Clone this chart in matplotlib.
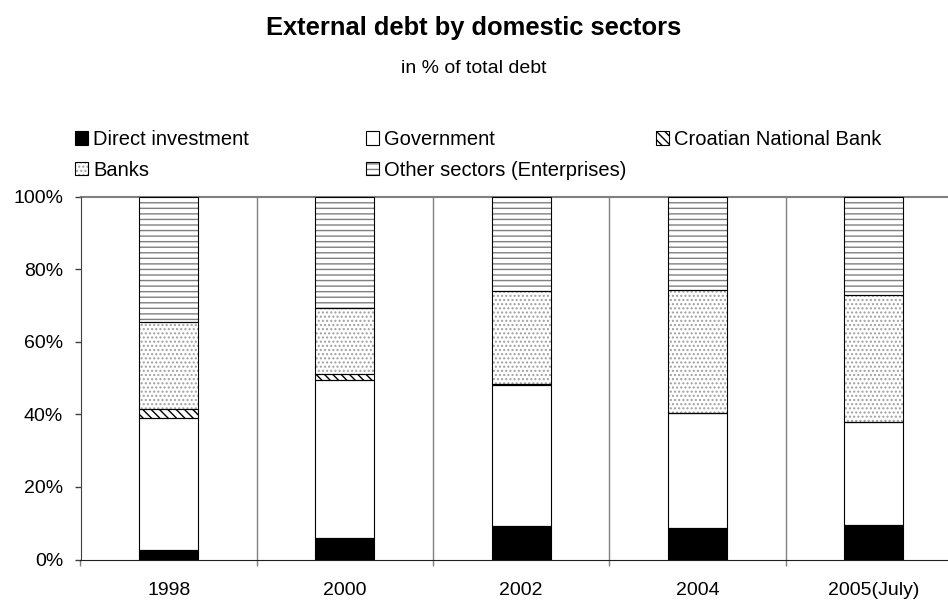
import numpy as np
import matplotlib
matplotlib.use('Agg')
import matplotlib.pyplot as plt
from matplotlib.patches import Patch

plt.rcParams['font.family'] = ['Liberation Sans', 'DejaVu Sans']
plt.rcParams['hatch.linewidth'] = 1.0

# data (shares in % of total debt)
years = ['1998', '2000', '2002', '2004', '2005(July)']
direct_inv = [2.6, 5.8, 9.3, 8.8, 9.5]
government = [36.3, 43.6, 38.8, 31.7, 28.4]
cnb = [2.6, 1.7, 0.2, 0.0, 0.0]
banks = [24.0, 18.3, 25.6, 33.8, 34.9]
other = [34.5, 30.6, 26.1, 25.7, 27.2]
y_ticks = [0, 20, 40, 60, 80, 100]
y_labels = ['0%', '20%', '40%', '60%', '80%', '100%']

# series: label, values, facecolor, hatch, hatch colour
series = [
    ('Direct investment', direct_inv, 'black', None, 'black'),
    ('Government', government, 'white', None, 'black'),
    ('Croatian National Bank', cnb, 'white', '\\\\\\\\', 'black'),
    ('Banks', banks, 'white', '....', '#a0a0a0'),
    ('Other sectors (Enterprises)', other, 'white', '---', '#808080'),
]

W, H = 948, 601
fig = plt.figure(figsize=(W / 100, H / 100), dpi=100)
ax = fig.add_axes([80.5 / W, 1 - 559.5 / H, (962 - 80.5) / W, (559.5 - 196.7) / H])

x = np.arange(len(years))
bw = 0.335
bottom = np.zeros(len(years))
handles = {}
for label, vals, fc, hatch, hc in series:
    vals = np.array(vals)
    # fill + hatch layer, then black outline on top
    ax.bar(x, vals, bw, bottom=bottom, color=fc, edgecolor=hc, hatch=hatch, linewidth=0, zorder=2)
    ax.bar(x, vals, bw, bottom=bottom, fill=False, edgecolor='black', linewidth=0.8, zorder=3)
    handles[label] = (Patch(facecolor=fc, edgecolor=hc, hatch=hatch, linewidth=0),
                      Patch(fill=False, edgecolor='black', linewidth=0.8))
    bottom += vals

ax.set_xlim(-0.5, len(years) - 0.5)
ax.set_ylim(0, 100)
ax.set_xticks(x)
ax.set_xticklabels(years, fontsize=14)
ax.set_xticks(np.arange(len(years) + 1) - 0.5, minor=True)
ax.tick_params(axis='x', which='major', length=0, pad=16.5)
ax.tick_params(axis='x', which='minor', length=4.5, width=1, color='#808080', direction='out')
ax.grid(axis='x', which='minor', color='#808080', linewidth=1, zorder=1)
ax.set_yticks(y_ticks)
ax.set_yticklabels(y_labels, fontsize=14)
ax.tick_params(axis='y', length=4.5, width=1, color='#404040', pad=8)
ax.axhline(100, color='#808080', linewidth=1.5, zorder=1, clip_on=False)

ax.spines['top'].set_visible(False)
ax.spines['right'].set_visible(False)
ax.spines['left'].set_color('#404040')
ax.spines['bottom'].set_color('#202020')
ax.set_axisbelow(True)

fig.text(0.5, 1 - 35 / H, 'External debt by domestic sectors', ha='center', va='baseline',
         fontsize=18.4, fontweight='bold')
fig.text(0.5, 1 - 73 / H, 'in % of total debt', ha='center', va='baseline', fontsize=14)

# legend laid out like the original: three columns at fixed positions
columns = [(['Direct investment', 'Banks'], 75),
           (['Government', 'Other sectors (Enterprises)'], 366),
           (['Croatian National Bank'], 656)]
for labels, xpix in columns:
    leg = fig.legend([handles[l] for l in labels], labels, loc='upper left',
                     bbox_to_anchor=(xpix / W, 1 - 130 / H), frameon=False, fontsize=14.5,
                     borderpad=0, borderaxespad=0, handlelength=0.65, handleheight=0.65,
                     handletextpad=0.25, labelspacing=0.58)

fig.savefig('out.png', dpi=100)
